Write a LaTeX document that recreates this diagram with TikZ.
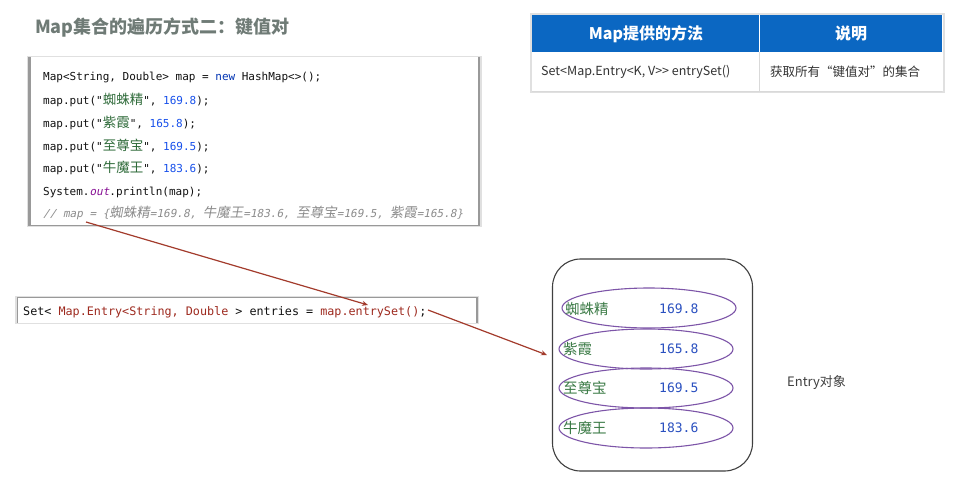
\documentclass[tikz,border=0pt]{standalone}
\usepackage{fontspec}
\setmainfont{Noto Sans CJK SC}
\newfontfamily\cjk{Noto Sans CJK SC}
\newfontfamily\cjkit[FakeSlant=0.18]{Noto Sans CJK SC}
\newfontfamily\codef{DejaVu Sans Mono}
\newfontfamily\codeit[FakeSlant=0.2]{DejaVu Sans Mono}
\usetikzlibrary{arrows.meta,shapes.geometric}
\definecolor{titlegray}{HTML}{6F7B76}
\definecolor{codeblack}{HTML}{111111}
\definecolor{kwblue}{HTML}{0033B3}
\definecolor{numblue}{HTML}{1750EB}
\definecolor{strgreen}{HTML}{2F6B3A}
\definecolor{outpurple}{HTML}{871094}
\definecolor{cmtgray}{HTML}{8C8C8C}
\definecolor{redcode}{HTML}{9E2A1F}
\definecolor{arrowred}{HTML}{A33B2C}
\definecolor{hdrblue}{HTML}{0B67C2}
\definecolor{ellpurple}{HTML}{7D55A8}
\definecolor{namegreen}{HTML}{3A7A45}
\definecolor{valblue}{HTML}{2A50C0}
\newcommand\cj[1]{{\fontsize{13.5}{14}\cjk\color{strgreen}#1}}
\newcommand\cji[1]{{\fontsize{13.5}{14}\cjkit #1}}
\newcommand\nb[1]{{\color{numblue}#1}}
\begin{document}
\begin{tikzpicture}[x=1pt,y=-1pt,
  codeline/.style={anchor=base west,inner sep=0pt,font=\fontsize{11}{13}\codef,text=codeblack},
  codeline2/.style={anchor=base west,inner sep=0pt,font=\fontsize{11.75}{13}\codef,text=codeblack},
  hdr/.style={inner sep=0pt,font=\fontsize{16}{18}\selectfont\bfseries,text=white},
  cell/.style={anchor=west,inner sep=0pt,font=\fontsize{12.5}{14}\selectfont,text=black!80},
  ell/.style={ellipse,draw=ellpurple,line width=1.1pt,minimum width=174pt,minimum height=40pt,inner sep=0pt},
  ename/.style={anchor=west,inner sep=0pt,font=\fontsize{14.5}{16}\cjk,text=namegreen},
  evalue/.style={anchor=west,inner sep=0pt,font=\fontsize{13}{15}\codef,text=valblue},
  link/.style={draw=arrowred,line width=1.2pt,-{Stealth[length=6pt,width=5pt]}}
]
\useasboundingbox (0,0) rectangle (957,484);
\fill[white] (0,0) rectangle (957,484);

% title
\node[anchor=west,inner sep=0pt,font=\fontsize{18}{20}\selectfont\bfseries,text=titlegray] (title) at (35,28) {Map集合的遍历方式二：键值对};

% code box 1
\fill[black!12] (26.5,56) rectangle (481.5,227);
\fill[black!40] (28,57.5) rectangle (480,225.5);
\node[fill=white,minimum width=447pt,minimum height=167pt,inner sep=0pt] (code1) at (254,141) {};
\node[codeline] (l1) at (43,81) {Map<String, Double> map = {\color{kwblue}new} HashMap<>();};
\node[codeline] (l2) at (43,104) {map.put("\cj{蜘蛛精}", \nb{169.8});};
\node[codeline] (l3) at (43,127) {map.put("\cj{紫霞}", \nb{165.8});};
\node[codeline] (l4) at (43,150) {map.put("\cj{至尊宝}", \nb{169.5});};
\node[codeline] (l5) at (43,172) {map.put("\cj{牛魔王}", \nb{183.6});};
\node[codeline] (l6) at (43,195) {System.{\codeit\color{outpurple}out}.println(map);};
\node[codeline,text=cmtgray] (l7) at (43,217) {\codeit // map = \{\cji{蜘蛛精}=169.8, \cji{牛魔王}=183.6, \cji{至尊宝}=169.5, \cji{紫霞}=165.8\}};

% code box 2
\fill[black!12] (15,296) rectangle (479,324);
\fill[black!40] (16.5,297) rectangle (477.5,323);
\node[fill=white,minimum width=458pt,minimum height=25pt,inner sep=0pt] (code2) at (247,310) {};
\node[codeline2] (m1) at (23,315) {Set< {\color{redcode}Map.Entry<String, Double} > entries = {\color{redcode}map.entrySet()};};

% table
\fill[black!12] (529.5,13) rectangle (944.5,93.5);
\fill[white] (531.5,15) rectangle (942.5,91.5);
\fill[hdrblue] (532,15.5) rectangle (942,52);
\draw[white,line width=1pt] (759.5,15.5) -- (759.5,52);
\draw[black!15,line width=0.8pt] (759.5,52) -- (759.5,91);
\draw[black!15,line width=0.8pt] (532,91) -- (942,91);
\node[hdr] (h1) at (646,34) {Map提供的方法};
\node[hdr] (h2) at (851,34) {说明};
\node[cell] (c1) at (541,72) {Set<Map.Entry<K, V>{}> entrySet()};
\node[cell] (c2) at (770,72) {获取所有“键值对”的集合};

% entry set box
\node[draw=black!75,line width=1.1pt,rounded corners=28pt,minimum width=200pt,minimum height=212pt,inner sep=0pt] (ebox) at (652.5,365) {};
\node[ell] (e1) at (649,308) {};
\node[ell] (e2) at (646,349) {};
\node[ell] (e3) at (646,388) {};
\node[ell] (e4) at (646,428) {};
\node[ename] (n1) at (565,309) {蜘蛛精};
\node[ename] (n2) at (563,349) {紫霞};
\node[ename] (n3) at (563,388) {至尊宝};
\node[ename] (n4) at (563,428) {牛魔王};
\node[evalue] (v1) at (659,309) {169.8};
\node[evalue] (v2) at (659,349) {165.8};
\node[evalue] (v3) at (659,388) {169.5};
\node[evalue] (v4) at (659,428) {183.6};
\node[anchor=west,inner sep=0pt,font=\fontsize{13}{15}\selectfont,text=black!75] (lbl) at (787,383) {Entry对象};

% arrows
\coordinate (a1s) at (86,222);
\coordinate (a1e) at (368,305);
\coordinate (a2s) at (428,310);
\coordinate (a2e) at (547,355);
\draw[link] (a1s) -- (a1e);
\draw[link] (a2s) -- (a2e);
\end{tikzpicture}
\end{document}
